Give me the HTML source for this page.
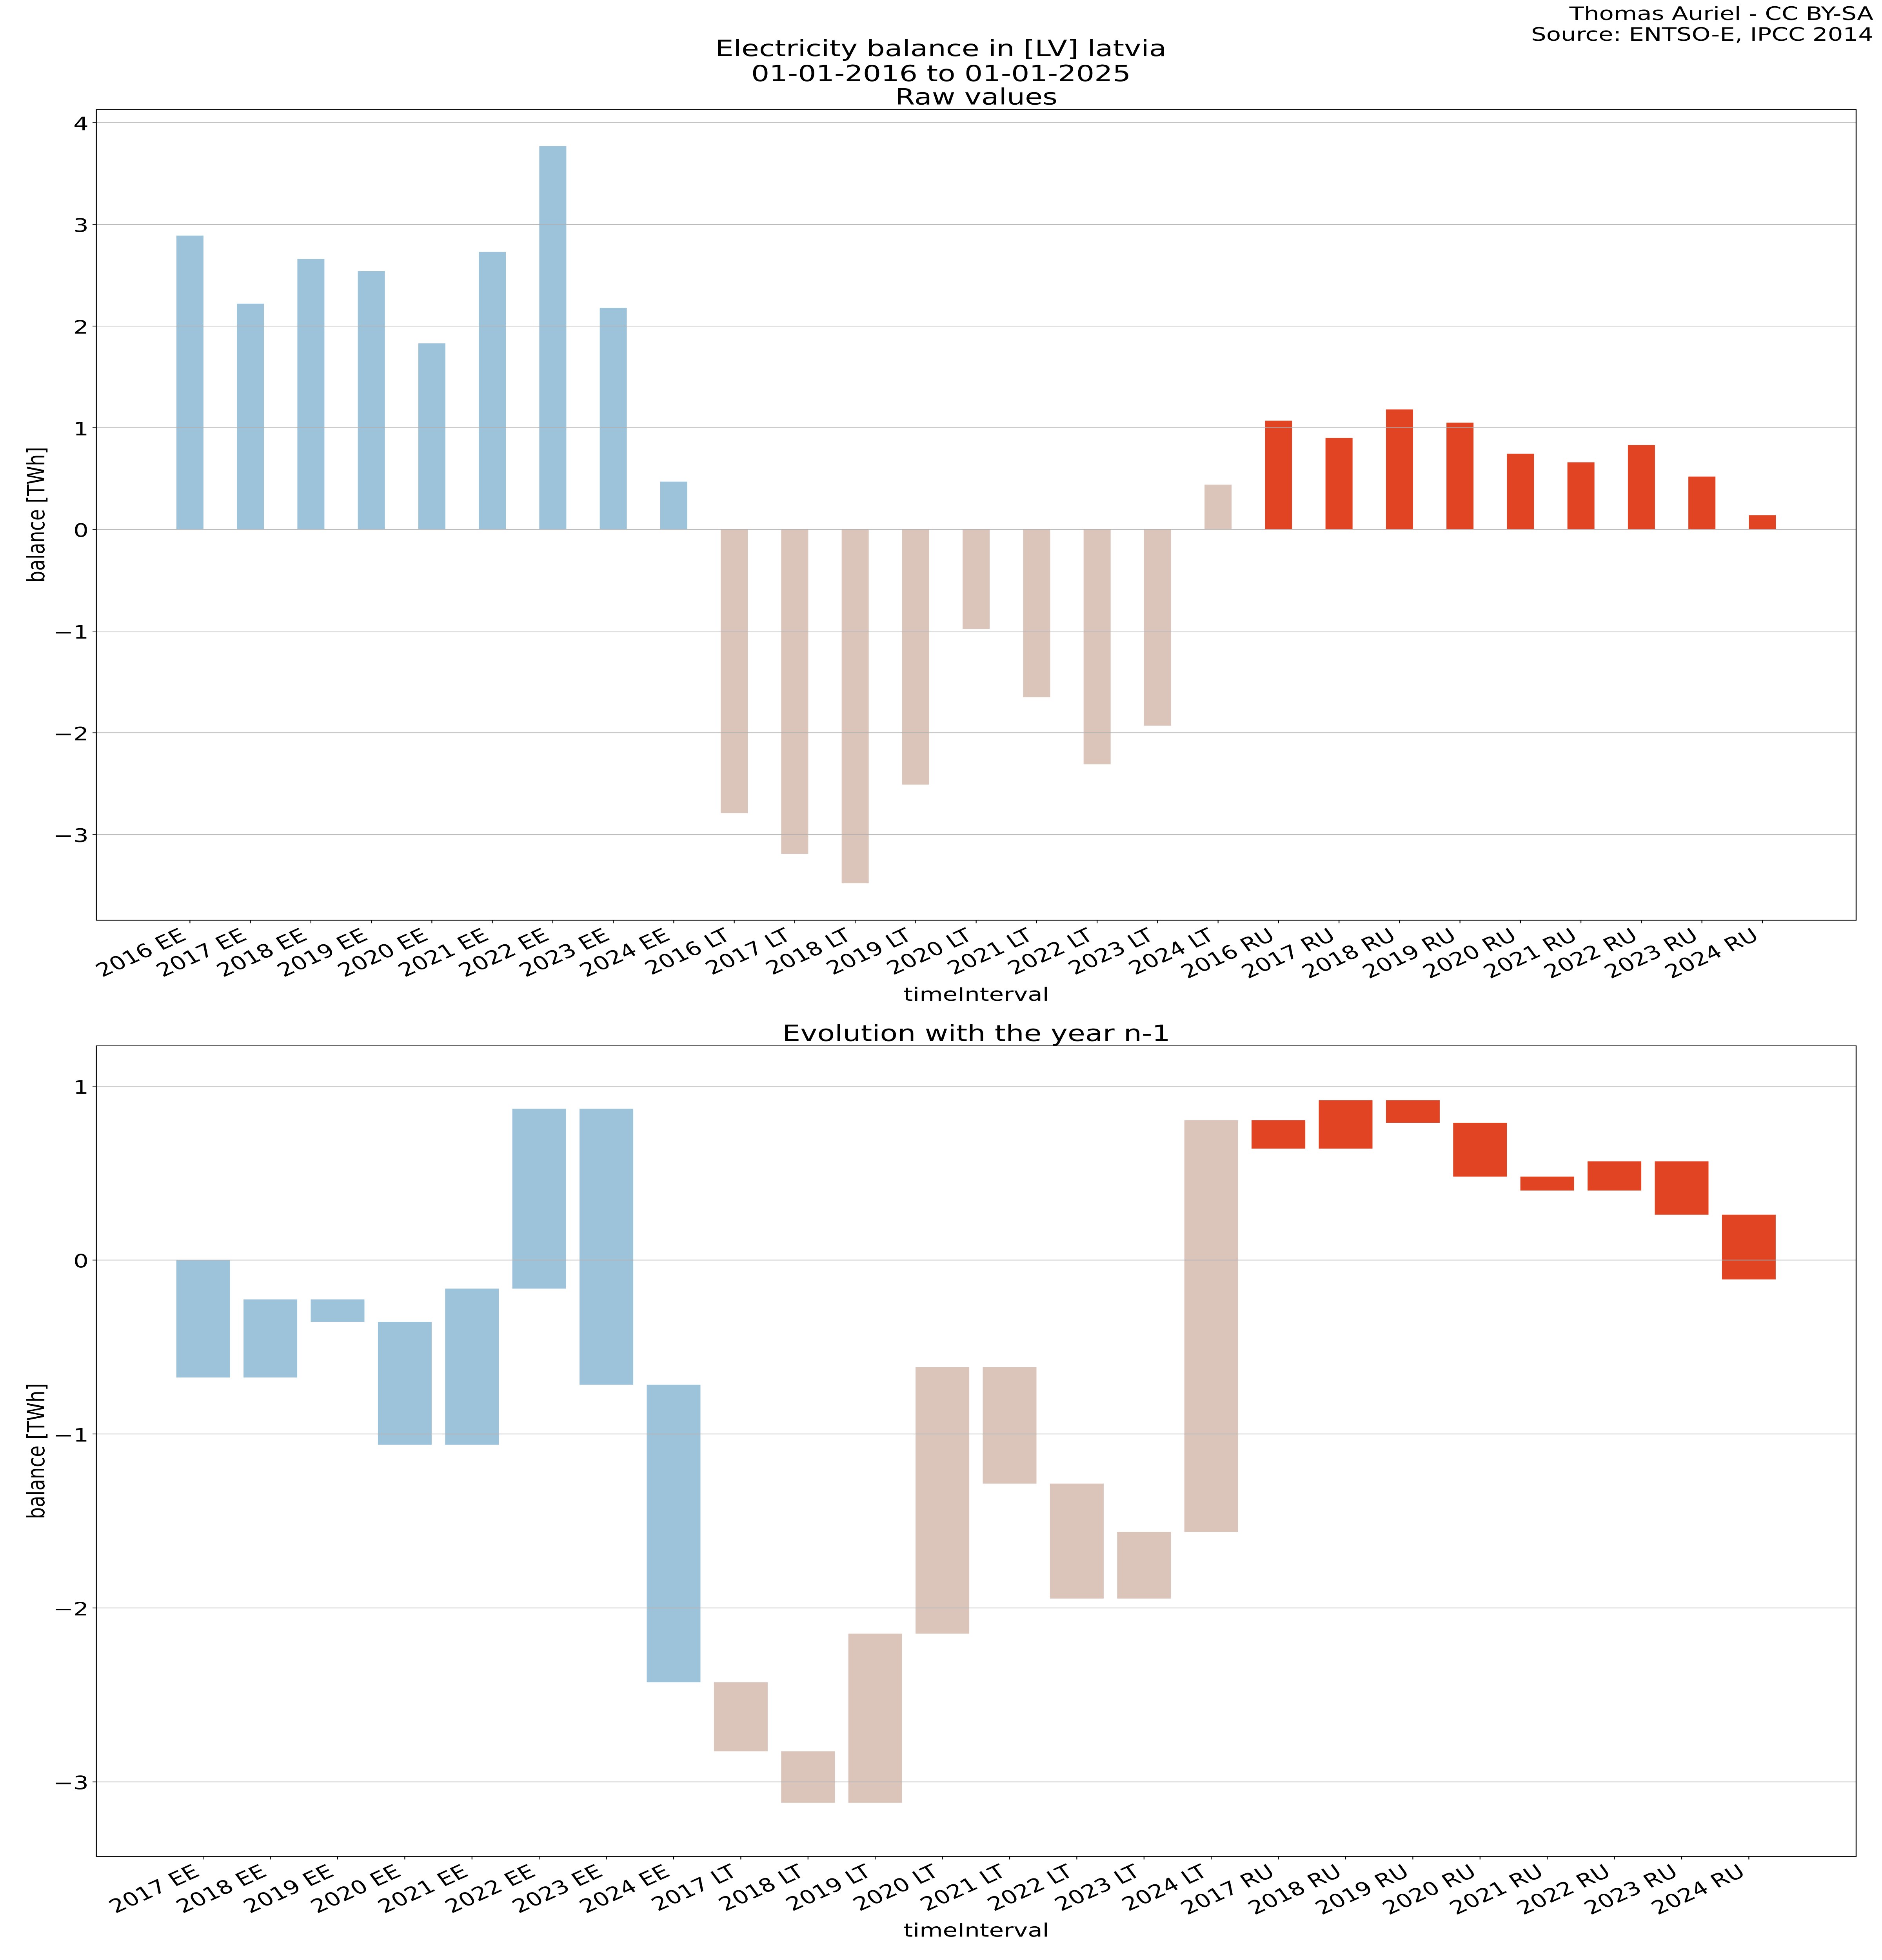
<!DOCTYPE html>
<html>
<head>
<meta charset="utf-8">
<style>
  html, body { margin: 0; padding: 0; background: #ffffff; width: 100%; height: 100%; overflow: hidden; }
  svg { display: block; position: absolute; left: 0; top: 0; width: 100vw; height: 100vh; }
  text { font-family: "DejaVu Sans", "Liberation Sans", sans-serif; fill: #000; }
  .tk { font-size: 61px; }
  .ttl { font-size: 73px; }
</style>
</head>
<body>
<svg xmlns="http://www.w3.org/2000/svg" viewBox="0 0 4800 6400" preserveAspectRatio="none" overflow="hidden">
  <rect x="0" y="0" width="4800" height="6400" fill="#ffffff"/>

  <!-- Header text -->
  <text class="tk" x="4778" y="65" text-anchor="end">Thomas Auriel - CC BY-SA</text>
  <text class="tk" x="4778" y="133" text-anchor="end">Source: ENTSO-E, IPCC 2014</text>
  <text class="ttl" x="2400" y="183" text-anchor="middle">Electricity balance in [LV] latvia</text>
  <text class="ttl" x="2400" y="265" text-anchor="middle">01-01-2016 to 01-01-2025</text>
  <text class="ttl" x="2490" y="341" text-anchor="middle">Raw values</text>

  <!-- ============ TOP CHART ============ -->
  <g transform="translate(0,1728.7) scale(1,-332)">
    <g fill="#9dc3db">
      <rect x="449.9" y="0" width="69" height="2.89"/>
      <rect x="604.15" y="0" width="69" height="2.22"/>
      <rect x="758.4" y="0" width="69" height="2.66"/>
      <rect x="912.65" y="0" width="69" height="2.54"/>
      <rect x="1066.9" y="0" width="69" height="1.83"/>
      <rect x="1221.15" y="0" width="69" height="2.73"/>
      <rect x="1375.4" y="0" width="69" height="3.77"/>
      <rect x="1529.65" y="0" width="69" height="2.18"/>
      <rect x="1683.9" y="0" width="69" height="0.47"/>
    </g>
    <g fill="#dbc4b9">
      <rect x="1838.15" y="-2.79" width="69" height="2.79"/>
      <rect x="1992.4" y="-3.19" width="69" height="3.19"/>
      <rect x="2146.65" y="-3.48" width="69" height="3.48"/>
      <rect x="2300.9" y="-2.51" width="69" height="2.51"/>
      <rect x="2455.15" y="-0.98" width="69" height="0.98"/>
      <rect x="2609.4" y="-1.65" width="69" height="1.65"/>
      <rect x="2763.65" y="-2.31" width="69" height="2.31"/>
      <rect x="2917.9" y="-1.93" width="69" height="1.93"/>
      <rect x="3072.15" y="0" width="69" height="0.44"/>
    </g>
    <g fill="#e04422">
      <rect x="3226.4" y="0" width="69" height="1.07"/>
      <rect x="3380.65" y="0" width="69" height="0.90"/>
      <rect x="3534.9" y="0" width="69" height="1.18"/>
      <rect x="3689.15" y="0" width="69" height="1.05"/>
      <rect x="3843.4" y="0" width="69" height="0.744"/>
      <rect x="3997.65" y="0" width="69" height="0.66"/>
      <rect x="4151.9" y="0" width="69" height="0.83"/>
      <rect x="4306.15" y="0" width="69" height="0.52"/>
      <rect x="4460.4" y="0" width="69" height="0.14"/>
    </g>
  </g>

  <!-- top gridlines -->
  <g stroke="#b0b0b0" stroke-width="2.2">
    <line x1="245.7" x2="4734" y1="400.7" y2="400.7"/>
    <line x1="245.7" x2="4734" y1="732.7" y2="732.7"/>
    <line x1="245.7" x2="4734" y1="1064.7" y2="1064.7"/>
    <line x1="245.7" x2="4734" y1="1396.7" y2="1396.7"/>
    <line x1="245.7" x2="4734" y1="1728.7" y2="1728.7"/>
    <line x1="245.7" x2="4734" y1="2060.7" y2="2060.7"/>
    <line x1="245.7" x2="4734" y1="2392.7" y2="2392.7"/>
    <line x1="245.7" x2="4734" y1="2724.7" y2="2724.7"/>
  </g>

  <!-- top spines -->
  <rect x="245.7" y="357.5" width="4488.3" height="2647.5" fill="none" stroke="#000" stroke-width="2.4"/>

  <!-- top y ticks -->
  <g stroke="#000" stroke-width="2.2">
    <line x1="236" x2="245.7" y1="400.7" y2="400.7"/>
    <line x1="236" x2="245.7" y1="732.7" y2="732.7"/>
    <line x1="236" x2="245.7" y1="1064.7" y2="1064.7"/>
    <line x1="236" x2="245.7" y1="1396.7" y2="1396.7"/>
    <line x1="236" x2="245.7" y1="1728.7" y2="1728.7"/>
    <line x1="236" x2="245.7" y1="2060.7" y2="2060.7"/>
    <line x1="236" x2="245.7" y1="2392.7" y2="2392.7"/>
    <line x1="236" x2="245.7" y1="2724.7" y2="2724.7"/>
  </g>
  <g text-anchor="end">
    <text class="tk" x="226" y="425.2">4</text>
    <text class="tk" x="226" y="757.2">3</text>
    <text class="tk" x="226" y="1089.2">2</text>
    <text class="tk" x="226" y="1421.2">1</text>
    <text class="tk" x="226" y="1753.2">0</text>
    <text class="tk" x="226" y="2085.2">−1</text>
    <text class="tk" x="226" y="2417.2">−2</text>
    <text class="tk" x="226" y="2749.2">−3</text>
  </g>

  <!-- top x ticks -->
  <g stroke="#000" stroke-width="2.2">
    <line x1="484.4" x2="484.4" y1="3005" y2="3014.7"/>
    <line x1="638.65" x2="638.65" y1="3005" y2="3014.7"/>
    <line x1="792.9" x2="792.9" y1="3005" y2="3014.7"/>
    <line x1="947.15" x2="947.15" y1="3005" y2="3014.7"/>
    <line x1="1101.4" x2="1101.4" y1="3005" y2="3014.7"/>
    <line x1="1255.65" x2="1255.65" y1="3005" y2="3014.7"/>
    <line x1="1409.9" x2="1409.9" y1="3005" y2="3014.7"/>
    <line x1="1564.15" x2="1564.15" y1="3005" y2="3014.7"/>
    <line x1="1718.4" x2="1718.4" y1="3005" y2="3014.7"/>
    <line x1="1872.65" x2="1872.65" y1="3005" y2="3014.7"/>
    <line x1="2026.9" x2="2026.9" y1="3005" y2="3014.7"/>
    <line x1="2181.15" x2="2181.15" y1="3005" y2="3014.7"/>
    <line x1="2335.4" x2="2335.4" y1="3005" y2="3014.7"/>
    <line x1="2489.65" x2="2489.65" y1="3005" y2="3014.7"/>
    <line x1="2643.9" x2="2643.9" y1="3005" y2="3014.7"/>
    <line x1="2798.15" x2="2798.15" y1="3005" y2="3014.7"/>
    <line x1="2952.4" x2="2952.4" y1="3005" y2="3014.7"/>
    <line x1="3106.65" x2="3106.65" y1="3005" y2="3014.7"/>
    <line x1="3260.9" x2="3260.9" y1="3005" y2="3014.7"/>
    <line x1="3415.15" x2="3415.15" y1="3005" y2="3014.7"/>
    <line x1="3569.4" x2="3569.4" y1="3005" y2="3014.7"/>
    <line x1="3723.65" x2="3723.65" y1="3005" y2="3014.7"/>
    <line x1="3877.9" x2="3877.9" y1="3005" y2="3014.7"/>
    <line x1="4032.15" x2="4032.15" y1="3005" y2="3014.7"/>
    <line x1="4186.4" x2="4186.4" y1="3005" y2="3014.7"/>
    <line x1="4340.65" x2="4340.65" y1="3005" y2="3014.7"/>
    <line x1="4494.9" x2="4494.9" y1="3005" y2="3014.7"/>
  </g>
  <g text-anchor="end">
    <text class="tk" transform="translate(478.4,3066) rotate(-30)">2016 EE</text>
    <text class="tk" transform="translate(632.65,3066) rotate(-30)">2017 EE</text>
    <text class="tk" transform="translate(786.9,3066) rotate(-30)">2018 EE</text>
    <text class="tk" transform="translate(941.15,3066) rotate(-30)">2019 EE</text>
    <text class="tk" transform="translate(1095.4,3066) rotate(-30)">2020 EE</text>
    <text class="tk" transform="translate(1249.65,3066) rotate(-30)">2021 EE</text>
    <text class="tk" transform="translate(1403.9,3066) rotate(-30)">2022 EE</text>
    <text class="tk" transform="translate(1558.15,3066) rotate(-30)">2023 EE</text>
    <text class="tk" transform="translate(1712.4,3066) rotate(-30)">2024 EE</text>
    <text class="tk" transform="translate(1866.65,3066) rotate(-30)">2016 LT</text>
    <text class="tk" transform="translate(2020.9,3066) rotate(-30)">2017 LT</text>
    <text class="tk" transform="translate(2175.15,3066) rotate(-30)">2018 LT</text>
    <text class="tk" transform="translate(2329.4,3066) rotate(-30)">2019 LT</text>
    <text class="tk" transform="translate(2483.65,3066) rotate(-30)">2020 LT</text>
    <text class="tk" transform="translate(2637.9,3066) rotate(-30)">2021 LT</text>
    <text class="tk" transform="translate(2792.15,3066) rotate(-30)">2022 LT</text>
    <text class="tk" transform="translate(2946.4,3066) rotate(-30)">2023 LT</text>
    <text class="tk" transform="translate(3100.65,3066) rotate(-30)">2024 LT</text>
    <text class="tk" transform="translate(3254.9,3066) rotate(-30)">2016 RU</text>
    <text class="tk" transform="translate(3409.15,3066) rotate(-30)">2017 RU</text>
    <text class="tk" transform="translate(3563.4,3066) rotate(-30)">2018 RU</text>
    <text class="tk" transform="translate(3717.65,3066) rotate(-30)">2019 RU</text>
    <text class="tk" transform="translate(3871.9,3066) rotate(-30)">2020 RU</text>
    <text class="tk" transform="translate(4026.15,3066) rotate(-30)">2021 RU</text>
    <text class="tk" transform="translate(4180.4,3066) rotate(-30)">2022 RU</text>
    <text class="tk" transform="translate(4334.65,3066) rotate(-30)">2023 RU</text>
    <text class="tk" transform="translate(4488.9,3066) rotate(-30)">2024 RU</text>
  </g>

  <text class="tk" x="2490" y="3268" text-anchor="middle">timeInterval</text>
  <text class="tk" transform="translate(113,1681) rotate(-90)" text-anchor="middle">balance [TWh]</text>

  <!-- ============ BOTTOM CHART ============ -->
  <text class="ttl" x="2490" y="3399" text-anchor="middle">Evolution with the year n-1</text>

  <g transform="translate(0,4114.6) scale(1,-567.9)">
    <g fill="#9dc3db">
      <rect x="449.7" y="-0.675" width="137" height="0.675"/>
      <rect x="621.1" y="-0.675" width="137" height="0.449"/>
      <rect x="792.5" y="-0.355" width="137" height="0.129"/>
      <rect x="963.9" y="-1.062" width="137" height="0.707"/>
      <rect x="1135.3" y="-1.062" width="137" height="0.898"/>
      <rect x="1306.7" y="-0.164" width="137" height="1.034"/>
      <rect x="1478.1" y="-0.717" width="137" height="1.587"/>
      <rect x="1649.5" y="-2.427" width="137" height="1.71"/>
    </g>
    <g fill="#dbc4b9">
      <rect x="1820.9" y="-2.824" width="137" height="0.397"/>
      <rect x="1992.3" y="-3.12" width="137" height="0.296"/>
      <rect x="2163.7" y="-3.12" width="137" height="0.972"/>
      <rect x="2335.1" y="-2.148" width="137" height="1.532"/>
      <rect x="2506.5" y="-1.285" width="137" height="0.669"/>
      <rect x="2677.9" y="-1.946" width="137" height="0.661"/>
      <rect x="2849.3" y="-1.946" width="137" height="0.383"/>
      <rect x="3020.7" y="-1.563" width="137" height="2.367"/>
    </g>
    <g fill="#e04422">
      <rect x="3192.1" y="0.641" width="137" height="0.163"/>
      <rect x="3363.5" y="0.641" width="137" height="0.278"/>
      <rect x="3534.9" y="0.790" width="137" height="0.129"/>
      <rect x="3706.3" y="0.480" width="137" height="0.31"/>
      <rect x="3877.7" y="0.400" width="137" height="0.08"/>
      <rect x="4049.1" y="0.400" width="137" height="0.168"/>
      <rect x="4220.5" y="0.261" width="137" height="0.307"/>
      <rect x="4391.9" y="-0.111" width="137" height="0.372"/>
    </g>
  </g>

  <!-- bottom gridlines -->
  <g stroke="#b0b0b0" stroke-width="2.2">
    <line x1="245.7" x2="4734" y1="3546.7" y2="3546.7"/>
    <line x1="245.7" x2="4734" y1="4114.6" y2="4114.6"/>
    <line x1="245.7" x2="4734" y1="4682.5" y2="4682.5"/>
    <line x1="245.7" x2="4734" y1="5250.4" y2="5250.4"/>
    <line x1="245.7" x2="4734" y1="5818.3" y2="5818.3"/>
  </g>

  <!-- bottom spines -->
  <rect x="245.7" y="3415" width="4488.3" height="2647" fill="none" stroke="#000" stroke-width="2.4"/>

  <!-- bottom y ticks -->
  <g stroke="#000" stroke-width="2.2">
    <line x1="236" x2="245.7" y1="3546.7" y2="3546.7"/>
    <line x1="236" x2="245.7" y1="4114.6" y2="4114.6"/>
    <line x1="236" x2="245.7" y1="4682.5" y2="4682.5"/>
    <line x1="236" x2="245.7" y1="5250.4" y2="5250.4"/>
    <line x1="236" x2="245.7" y1="5818.3" y2="5818.3"/>
  </g>
  <g text-anchor="end">
    <text class="tk" x="226" y="3571.2">1</text>
    <text class="tk" x="226" y="4139.1">0</text>
    <text class="tk" x="226" y="4707">−1</text>
    <text class="tk" x="226" y="5274.9">−2</text>
    <text class="tk" x="226" y="5842.8">−3</text>
  </g>

  <!-- bottom x ticks -->
  <g stroke="#000" stroke-width="2.2">
    <line x1="518.2" x2="518.2" y1="6062" y2="6071.7"/>
    <line x1="689.6" x2="689.6" y1="6062" y2="6071.7"/>
    <line x1="861" x2="861" y1="6062" y2="6071.7"/>
    <line x1="1032.4" x2="1032.4" y1="6062" y2="6071.7"/>
    <line x1="1203.8" x2="1203.8" y1="6062" y2="6071.7"/>
    <line x1="1375.2" x2="1375.2" y1="6062" y2="6071.7"/>
    <line x1="1546.6" x2="1546.6" y1="6062" y2="6071.7"/>
    <line x1="1718" x2="1718" y1="6062" y2="6071.7"/>
    <line x1="1889.4" x2="1889.4" y1="6062" y2="6071.7"/>
    <line x1="2060.8" x2="2060.8" y1="6062" y2="6071.7"/>
    <line x1="2232.2" x2="2232.2" y1="6062" y2="6071.7"/>
    <line x1="2403.6" x2="2403.6" y1="6062" y2="6071.7"/>
    <line x1="2575" x2="2575" y1="6062" y2="6071.7"/>
    <line x1="2746.4" x2="2746.4" y1="6062" y2="6071.7"/>
    <line x1="2917.8" x2="2917.8" y1="6062" y2="6071.7"/>
    <line x1="3089.2" x2="3089.2" y1="6062" y2="6071.7"/>
    <line x1="3260.6" x2="3260.6" y1="6062" y2="6071.7"/>
    <line x1="3432" x2="3432" y1="6062" y2="6071.7"/>
    <line x1="3603.4" x2="3603.4" y1="6062" y2="6071.7"/>
    <line x1="3774.8" x2="3774.8" y1="6062" y2="6071.7"/>
    <line x1="3946.2" x2="3946.2" y1="6062" y2="6071.7"/>
    <line x1="4117.6" x2="4117.6" y1="6062" y2="6071.7"/>
    <line x1="4289" x2="4289" y1="6062" y2="6071.7"/>
    <line x1="4460.4" x2="4460.4" y1="6062" y2="6071.7"/>
  </g>
  <g text-anchor="end">
    <text class="tk" transform="translate(512.2,6123) rotate(-30)">2017 EE</text>
    <text class="tk" transform="translate(683.6,6123) rotate(-30)">2018 EE</text>
    <text class="tk" transform="translate(855,6123) rotate(-30)">2019 EE</text>
    <text class="tk" transform="translate(1026.4,6123) rotate(-30)">2020 EE</text>
    <text class="tk" transform="translate(1197.8,6123) rotate(-30)">2021 EE</text>
    <text class="tk" transform="translate(1369.2,6123) rotate(-30)">2022 EE</text>
    <text class="tk" transform="translate(1540.6,6123) rotate(-30)">2023 EE</text>
    <text class="tk" transform="translate(1712,6123) rotate(-30)">2024 EE</text>
    <text class="tk" transform="translate(1883.4,6123) rotate(-30)">2017 LT</text>
    <text class="tk" transform="translate(2054.8,6123) rotate(-30)">2018 LT</text>
    <text class="tk" transform="translate(2226.2,6123) rotate(-30)">2019 LT</text>
    <text class="tk" transform="translate(2397.6,6123) rotate(-30)">2020 LT</text>
    <text class="tk" transform="translate(2569,6123) rotate(-30)">2021 LT</text>
    <text class="tk" transform="translate(2740.4,6123) rotate(-30)">2022 LT</text>
    <text class="tk" transform="translate(2911.8,6123) rotate(-30)">2023 LT</text>
    <text class="tk" transform="translate(3083.2,6123) rotate(-30)">2024 LT</text>
    <text class="tk" transform="translate(3254.6,6123) rotate(-30)">2017 RU</text>
    <text class="tk" transform="translate(3426,6123) rotate(-30)">2018 RU</text>
    <text class="tk" transform="translate(3597.4,6123) rotate(-30)">2019 RU</text>
    <text class="tk" transform="translate(3768.8,6123) rotate(-30)">2020 RU</text>
    <text class="tk" transform="translate(3940.2,6123) rotate(-30)">2021 RU</text>
    <text class="tk" transform="translate(4111.6,6123) rotate(-30)">2022 RU</text>
    <text class="tk" transform="translate(4283,6123) rotate(-30)">2023 RU</text>
    <text class="tk" transform="translate(4454.4,6123) rotate(-30)">2024 RU</text>
  </g>

  <text class="tk" x="2490" y="6324" text-anchor="middle">timeInterval</text>
  <text class="tk" transform="translate(113,4738.5) rotate(-90)" text-anchor="middle">balance [TWh]</text>
</svg>
</body>
</html>
